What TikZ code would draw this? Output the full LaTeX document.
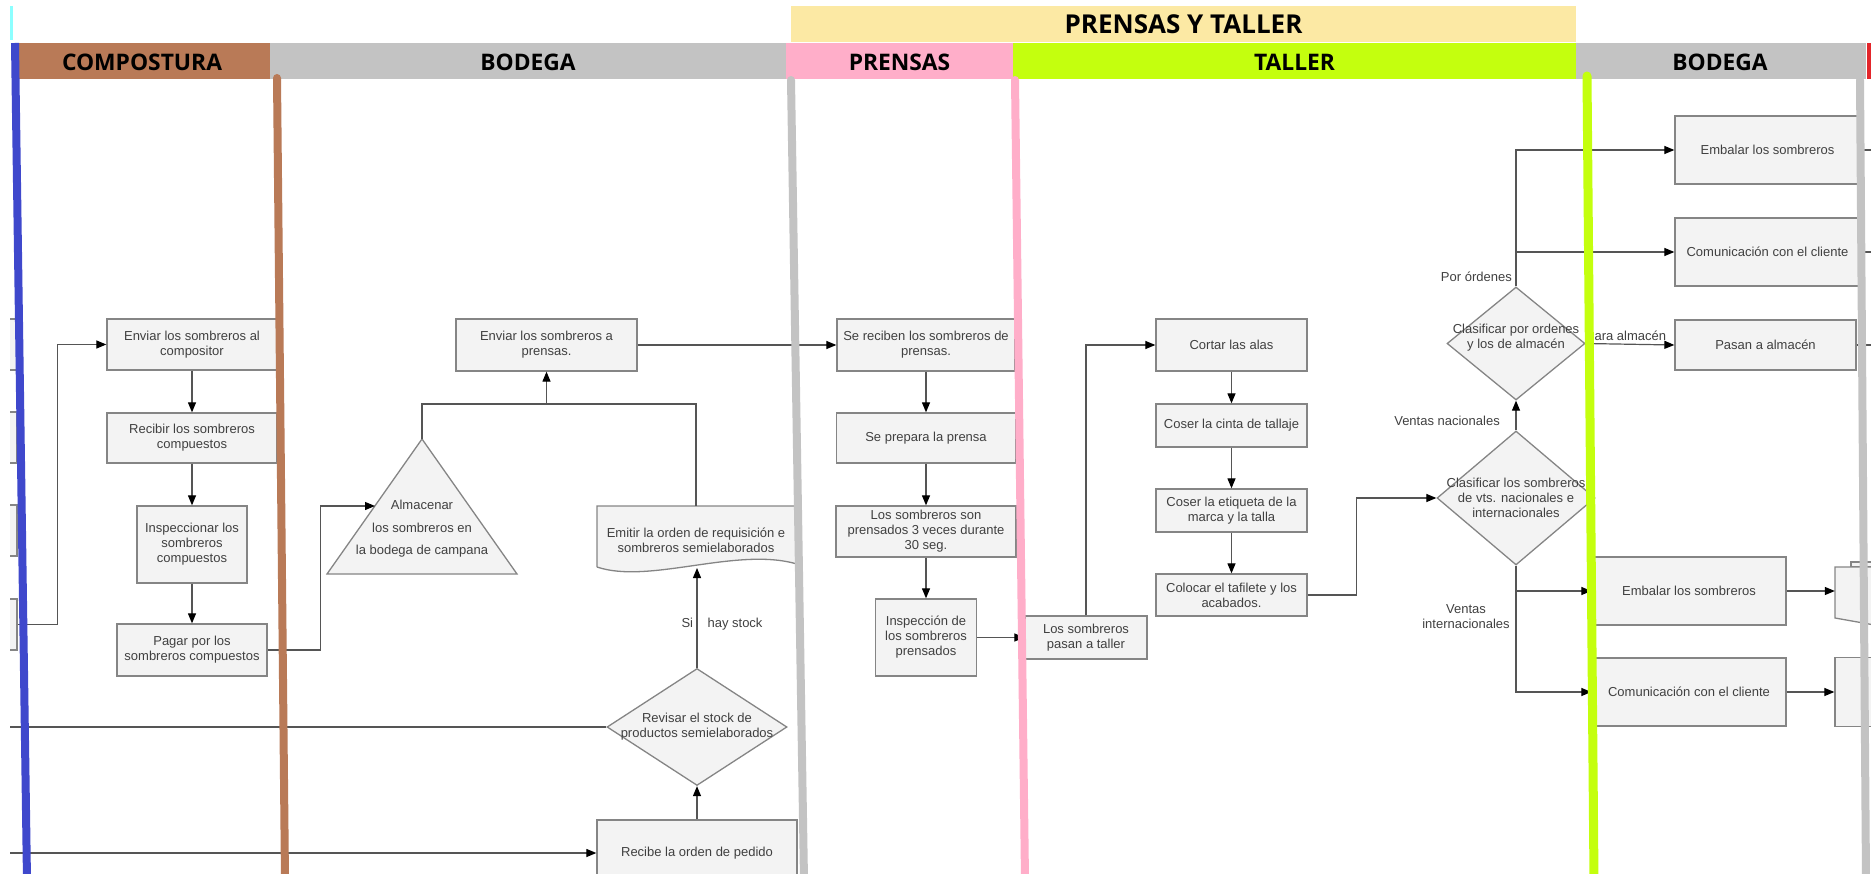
\documentclass[tikz,border=0pt]{standalone}
\usepackage{fontspec}
\setmainfont{Liberation Sans}
\newfontfamily\hdrfont{Open Sans}
\usetikzlibrary{arrows.meta,shapes.geometric,calc}

\definecolor{boxfill}{HTML}{F3F3F3}
\definecolor{boxline}{HTML}{858585}
\definecolor{wire}{HTML}{555555}
\definecolor{txtc}{HTML}{404040}
\definecolor{laneBlue}{HTML}{3F48CC}
\definecolor{laneBrown}{HTML}{B97A57}
\definecolor{laneGrey}{HTML}{C3C3C3}
\definecolor{lanePink}{HTML}{FFAEC9}
\definecolor{laneLime}{HTML}{C4FF0E}
\definecolor{bandYellow}{HTML}{FCE9A4}
\definecolor{markCyan}{HTML}{8CFFFF}
\definecolor{markRed}{HTML}{E3262B}

\newcommand\flowfont{\fontsize{13}{15}\selectfont}

\tikzset{
  proc/.style={draw=boxline, fill=boxfill, line width=1.3pt, text=txtc, font=\flowfont, align=center, inner sep=1pt},
  dia/.style={diamond, draw=boxline, fill=boxfill, line width=1.3pt, inner sep=0pt},
  txt/.style={text=txtc, font=\flowfont, align=center, inner sep=0pt},
  wirel/.style={draw=wire, line width=1.2pt},
  arr/.style={wirel, -{Triangle[length=10pt,width=8pt,color=black]}},
  lane/.style={line width=8pt, line cap=round},
  hdr/.style={font=\hdrfont\bfseries\fontsize{22.8}{26}\selectfont, text=black, inner sep=0pt},
}

\begin{document}
\begin{tikzpicture}[x=1pt,y=-1pt]
\useasboundingbox (0,0) rectangle (1871,874);
\begin{scope}
\clip (0,0) rectangle (1871,874);

% ---------- header bands ----------
\fill[markCyan] (10,6) rectangle (12.5,40);
\fill[bandYellow] (791,6) rectangle (1576,42);
\node[hdr, font=\hdrfont\bfseries\fontsize{26}{30}\selectfont] (hPT) at (1183.5,24) {PRENSAS Y TALLER};
\fill[laneBrown] (14,43) rectangle (270,79);
\fill[laneGrey] (270,43) rectangle (786,79);
\fill[lanePink] (786,43) rectangle (1013,79);
\fill[laneLime] (1013,43) rectangle (1576,79);
\fill[laneGrey] (1576,43) rectangle (1866,79);
\fill[markRed] (1867,43) rectangle (1871,79);
\node[hdr] (hComp) at (142,62) {COMPOSTURA};
\node[hdr] (hBod1) at (528,62) {BODEGA};
\node[hdr] (hPren) at (899.5,62) {PRENSAS};
\node[hdr] (hTall) at (1294.5,62) {TALLER};
\node[hdr] (hBod2) at (1720,62) {BODEGA};

% ---------- boxes cut by the left edge ----------
\begin{scope}
\clip (10,0) rectangle (60,874);
\node[proc, minimum width=57pt, minimum height=51pt] (L1) at (-11.5,344.5) {};
\node[proc, minimum width=57pt, minimum height=51pt] (L2) at (-11.5,437.5) {};
\node[proc, minimum width=57pt, minimum height=51pt] (L3) at (-11.5,530.5) {};
\node[proc, minimum width=57pt, minimum height=51pt] (L4) at (-11.5,624.5) {};
\end{scope}
\coordinate (edgeA) at (10,727);
\coordinate (edgeB) at (10,853);

% ---------- COMPOSTURA ----------
\node[proc, minimum width=170pt, minimum height=51pt] (A1) at (192,344.5) {Enviar los sombreros al\\compositor};
\node[proc, minimum width=170pt, minimum height=50pt] (A2) at (192,438) {Recibir los sombreros\\compuestos};
\node[proc, minimum width=110pt, minimum height=77pt] (A3) at (192,544.5) {Inspeccionar los\\sombreros\\compuestos};
\node[proc, minimum width=150pt, minimum height=52pt] (A4) at (192,650) {Pagar por los\\sombreros compuestos};

% ---------- BODEGA ----------
\node[proc, minimum width=181pt, minimum height=52pt] (B1) at (546.5,345) {Enviar los sombreros a\\prensas.};
\coordinate (triTop) at (422,439);
\coordinate (triBL) at (327,574);
\coordinate (triBR) at (517,574);
\coordinate (triL) at (375,506);
\filldraw[draw=boxline, fill=boxfill, line width=1.3pt] (triTop) -- (triBR) -- (triBL) -- cycle;
\node[txt, font=\fontsize{13}{22.5}\selectfont] (tri) at (422,529) {Almacenar\\los sombreros en\\la bodega de campana};

\filldraw[draw=boxline, fill=boxfill, line width=1.3pt]
  (597,567) -- (597,506) -- (800,506) -- (800,565) .. controls (740,545) and (650,585) .. (597,567);
\node[txt, minimum width=198pt, minimum height=68pt] (doc) at (696,540) {Emitir la orden de requisición e\\sombreros semielaborados};
\coordinate (docB) at (697,568);
\coordinate (jn) at (546.5,404);

\node[dia, minimum width=180pt, minimum height=117pt] (rev) at (697,727) {};
\node[txt] (revT) at (697,727) {Revisar el stock de\\productos semielaborados};
\node[proc, minimum width=200pt, minimum height=66pt] (rec) at (697,853) {Recibe la orden de pedido};

% ---------- PRENSAS ----------
\node[proc, minimum width=178pt, minimum height=52pt] (C1) at (926,345) {Se reciben los sombreros de\\prensas.};
\node[proc, minimum width=179pt, minimum height=50pt] (C2) at (926,438) {Se prepara la prensa};
\node[proc, minimum width=180pt, minimum height=51pt] (C3) at (926,531.5) {Los sombreros son\\prensados 3 veces durante\\30 seg.};
\node[proc, minimum width=101pt, minimum height=77pt] (C4) at (926,637.5) {Inspección de\\los sombreros\\prensados};

% ---------- TALLER ----------
\node[proc, minimum width=122pt, minimum height=43pt] (D0) at (1086,637.5) {Los sombreros\\pasan a taller};
\node[proc, minimum width=151pt, minimum height=52pt] (D1) at (1231.5,345) {Cortar las alas};
\node[proc, minimum width=151pt, minimum height=43pt] (D2) at (1231.5,425.5) {Coser la cinta de tallaje};
\node[proc, minimum width=151pt, minimum height=43pt] (D3) at (1231.5,510.5) {Coser la etiqueta de la\\marca y la talla};
\node[proc, minimum width=151pt, minimum height=42pt] (D4) at (1231.5,595) {Colocar el tafilete y los\\acabados.};

\node[dia, minimum width=158pt, minimum height=134pt] (E1) at (1516,498) {};
\node[txt] (E1t) at (1516,497.5) {Clasificar los sombreros\\de vts. nacionales e\\internacionales};
\node[dia, minimum width=138pt, minimum height=113pt] (E2) at (1516,343.5) {};
\node[txt] (E2t) at (1516,337.5) {Clasificar por ordenes\\y los de almacén};

% ---------- BODEGA (right) ----------
\node[proc, minimum width=185pt, minimum height=68pt] (F1) at (1767.5,150) {Embalar los sombreros};
\node[proc, minimum width=185pt, minimum height=68pt] (F2) at (1767.5,252) {Comunicación con el cliente};
\node[proc, minimum width=181pt, minimum height=50pt] (F3) at (1765.5,345) {Pasan a almacén};
\node[proc, minimum width=194pt, minimum height=68pt] (F4) at (1689,591) {Embalar los sombreros};
\node[proc, minimum width=194pt, minimum height=68pt] (F5) at (1689,692) {Comunicación con el cliente};

\filldraw[draw=boxline, fill=boxfill, line width=1.3pt] (1851,567) -- (1851,562) -- (1880,562) -- (1880,567) -- cycle;
\filldraw[draw=boxline, fill=boxfill, line width=1.3pt] (1880,567) -- (1835,567) -- (1835,618) -- (1880,626);
\node[minimum width=40pt, minimum height=51pt, inner sep=0pt] (G1) at (1855,591) {};
\node[proc, minimum width=50pt, minimum height=69pt] (G2) at (1860,692) {};

\coordinate (offF1) at (1885,150);
\coordinate (offF2) at (1885,252);
\coordinate (offF3) at (1885,345);

% ---------- connectors ----------
\draw[arr] (L4.east) -- ++(40,0) |- (A1.west);
\draw[arr] (A1) -- (A2);
\draw[arr] (A2) -- (A3);
\draw[arr] (A3) -- (A4);
\draw[arr] (A4.east) -- ++(53,0) |- (triL);

\draw[wirel] (doc.north) |- (jn) -| (triTop);
\draw[arr] (jn) -- (B1.south);
\draw[arr] (rev.north) -- node[txt, pos=0.436, xshift=25pt] (siLbl) {Si\hspace{14.5pt}hay stock} (docB);
\draw[arr] (rec.north) -- (rev.south);
\draw[wirel] (rev.west) -- (edgeA);
\draw[arr] (edgeB) -- (rec.west);

\draw[arr] (B1.east) -- (C1.west);
\draw[arr] (C1) -- (C2);
\draw[arr] (C2) -- (C3);
\draw[arr] (C3) -- (C4);
\draw[arr] (C4.east) -- (D0.west);

\draw[arr] (D0.north) |- (D1.west);
\draw[arr] (D1) -- (D2);
\draw[arr] (D2) -- (D3);
\draw[arr] (D3) -- (D4);
\draw[arr] (D4.east) -- ++(49,0) |- (E1.west);

\draw[arr] (E1.north) -- (E2.south);
\node[txt, anchor=east] (lblNac) at (1500,421) {Ventas nacionales};
\draw[arr] (E2.north) |- (F1.west);
\draw[arr] (E2.north) |- (F2.west);
\node[txt, anchor=east] (lblOrd) at (1512,277) {Por órdenes};
\draw[arr] (E2.east) -- (F3.west);
\node[txt] (lblAlm) at (1626,336) {Para almacén};

\draw[arr] (E1.south) |- (F4.west);
\draw[arr] (E1.south) |- (F5.west);
\node[txt] (lblInt) at (1466,617) {Ventas\\internacionales};

\draw[arr] (F4.east) -- (G1.west);
\draw[arr] (F5.east) -- (G2.west);
\draw[wirel] (F1.east) -- (offF1);
\draw[wirel] (F2.east) -- (offF2);
\draw[wirel] (F3.east) -- (offF3);

% ---------- lane dividers ----------
\draw[line width=8pt, laneBlue] (15,43) -- (27,880);
\draw[lane, laneBrown] (277,78) -- (285,880);
\draw[lane, laneGrey] (791,80) -- (804,880);
\draw[lane, lanePink] (1015,80) -- (1025,880);
\draw[lane, laneLime, line width=9pt] (1587,76) -- (1594,880);
\draw[lane, laneGrey] (1860,80) -- (1866,880);
\end{scope}
\end{tikzpicture}
\end{document}
